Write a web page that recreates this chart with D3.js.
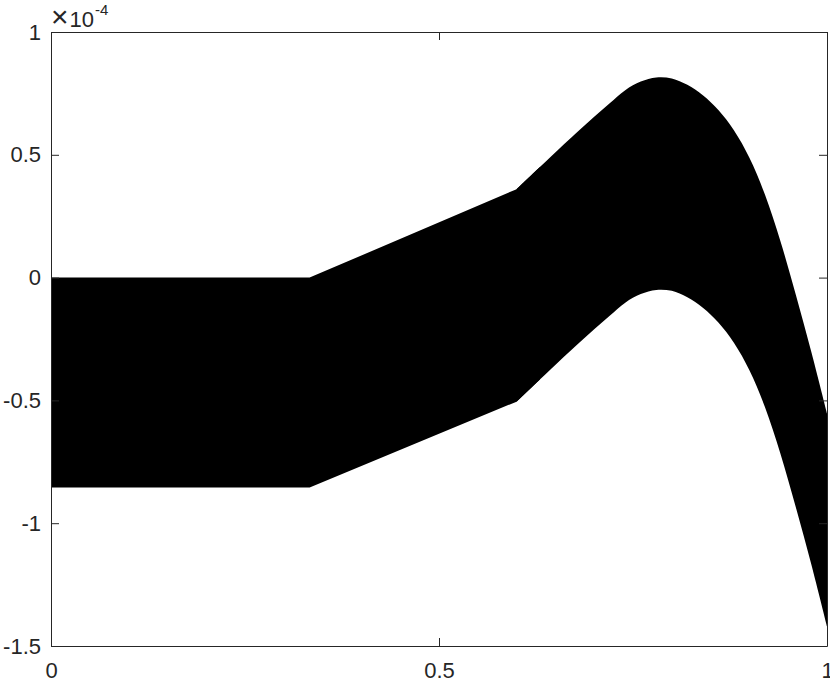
<!DOCTYPE html>
<html>
<head>
<meta charset="utf-8">
<script src="https://cdn.jsdelivr.net/npm/d3@7"></script>
<style>
  body { margin: 0; background: #fff; }
  svg { display: block; }
</style>
</head>
<body>
<div id="d3-container"></div>
<script>
// values are in units of 1e-4 (see the exponent label)
const xs    = [0, 0.3333, 0.6, 0.63, 0.66, 0.68, 0.70, 0.72, 0.74, 0.76, 0.78, 0.80, 0.82, 0.84, 0.86, 0.88, 0.90, 0.92, 0.94, 0.96, 0.98, 1.00];
const upper = [0, 0, 0.360, 0.45, 0.54, 0.598, 0.655, 0.71, 0.763, 0.798, 0.815, 0.811, 0.785, 0.742, 0.682, 0.600, 0.488, 0.338, 0.148, -0.072, -0.305, -0.553];
const lower = [-0.855, -0.855, -0.505, -0.415, -0.325, -0.267, -0.21, -0.155, -0.102, -0.067, -0.05, -0.054, -0.08, -0.123, -0.183, -0.265, -0.377, -0.527, -0.717, -0.937, -1.17, -1.42];

const xTicks = [0, 0.5, 1];
const yTicks = [-1.5, -1, -0.5, 0, 0.5, 1];
const exponent = '-4';

const width = 830;
const height = 683;
const margin = { top: 32, right: 3, bottom: 37, left: 51 };
const font = '"Liberation Sans", Arial, Helvetica, sans-serif';

const svg = d3.select('#d3-container')
  .append('svg')
  .attr('width', width)
  .attr('height', height);

const x = d3.scaleLinear()
  .domain([0, 1])
  .range([margin.left, width - margin.right]);

const y = d3.scaleLinear()
  .domain([-1.5, 1])
  .range([height - margin.bottom, margin.top]);

const band = xs.map((d, i) => ({ x: d, hi: upper[i], lo: lower[i] }));

// straight pieces up to x = 0.6, smooth bump after that (pieces overlap a bit so no seam)
const areaLinear = d3.area()
  .x(d => x(d.x))
  .y0(d => y(d.lo))
  .y1(d => y(d.hi));

const areaSmooth = d3.area()
  .x(d => x(d.x))
  .y0(d => y(d.lo))
  .y1(d => y(d.hi))
  .curve(d3.curveCatmullRom.alpha(0.5));

svg.append('path')
  .datum(band.filter(d => d.x <= 0.63))
  .attr('fill', '#000')
  .attr('d', areaLinear);

svg.append('path')
  .datum(band.filter(d => d.x >= 0.6))
  .attr('fill', '#000')
  .attr('d', areaSmooth);

const fmt = d => String(d);

function styleAxis(g) {
  g.attr('font-size', 22)
    .attr('font-family', font);
  g.select('.domain').attr('stroke', '#262626');
  g.selectAll('.tick line').attr('stroke', '#262626');
  g.selectAll('.tick text').attr('fill', '#262626');
}

svg.append('g')
  .attr('transform', `translate(0,${height - margin.bottom})`)
  .call(d3.axisBottom(x).tickValues(xTicks).tickFormat(fmt).tickSizeInner(-8).tickSizeOuter(0).tickPadding(16))
  .call(styleAxis);

svg.append('g')
  .attr('transform', `translate(0,${margin.top})`)
  .call(d3.axisTop(x).tickValues(xTicks).tickFormat('').tickSizeInner(-8).tickSizeOuter(0))
  .call(styleAxis);

svg.append('g')
  .attr('transform', `translate(${margin.left},0)`)
  .call(d3.axisLeft(y).tickValues(yTicks).tickFormat(fmt).tickSizeInner(-8).tickSizeOuter(0).tickPadding(10))
  .call(styleAxis);

svg.append('g')
  .attr('transform', `translate(${width - margin.right},0)`)
  .call(d3.axisRight(y).tickValues(yTicks).tickFormat('').tickSizeInner(-8).tickSizeOuter(0))
  .call(styleAxis);

// exponent label
const exp = svg.append('text')
  .attr('x', margin.left)
  .attr('y', margin.top - 5)
  .attr('font-family', font)
  .attr('font-size', 22)
  .attr('fill', '#262626');
exp.append('tspan').attr('font-size', 30).text('\u00d7');
exp.append('tspan').attr('dx', 1).text('10');
exp.append('tspan')
  .attr('font-size', 15)
  .attr('dx', 1)
  .attr('dy', -12)
  .text(exponent);
</script>
</body>
</html>
